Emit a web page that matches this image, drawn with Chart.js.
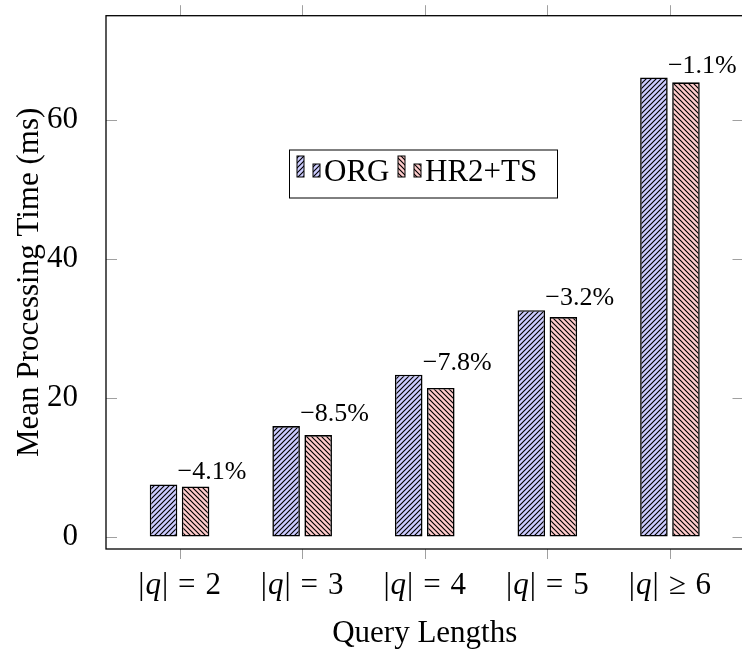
<!DOCTYPE html>
<html>
<head>
<meta charset="utf-8">
<script src="https://cdn.jsdelivr.net/npm/chart.js@4.4.1/dist/chart.umd.min.js"></script>
<style>
  html, body { margin: 0; padding: 0; overflow: hidden; background: #fff; }
  canvas { display: block; }
</style>
</head>
<body>
<canvas id="chart" width="760" height="659"></canvas>
<script>
const categories = ['|q| = 2', '|q| = 3', '|q| = 4', '|q| = 5', '|q| ≥ 6'];
const orgTimes = [7.5, 15.9, 23.3, 32.6, 66.1];
const hr2tsTimes = [7.2, 14.6, 21.4, 31.6, 65.4];
const changeLabels = ['−4.1%', '−8.5%', '−7.8%', '−3.2%', '−1.1%'];
const yTicks = [0, 20, 40, 60];

const FONT = "'Liberation Serif', 'Times New Roman', serif";
Chart.defaults.color = '#000';

const canvas = document.getElementById('chart');
const ctx = canvas.getContext('2d');

// diagonal hatch on a light fill, dir 1 = north east, -1 = north west
function hatch(bg, dir) {
    const s = 5;
    const c = document.createElement('canvas');
    c.width = c.height = s;
    const g = c.getContext('2d');
    g.fillStyle = bg;
    g.fillRect(0, 0, s, s);
    g.strokeStyle = '#000';
    g.lineWidth = 1.15;
    g.beginPath();
    if (dir > 0) {
        g.moveTo(0, s); g.lineTo(s, 0);
        g.moveTo(-1, 1); g.lineTo(1, -1);
        g.moveTo(s - 1, s + 1); g.lineTo(s + 1, s - 1);
    } else {
        g.moveTo(0, 0); g.lineTo(s, s);
        g.moveTo(s - 1, -1); g.lineTo(s + 1, 1);
        g.moveTo(-1, s - 1); g.lineTo(1, s + 1);
    }
    g.stroke();
    return ctx.createPattern(c, 'repeat');
}

const orgFill = hatch('#ccccff', 1);
const hrFill = hatch('#ffcccc', -1);

// tick marks, frame, math-style x labels, change labels and legend
const decorPlugin = {
    id: 'decor',
    afterDraw: (chart) => {
        const { ctx, chartArea: { left, top, right, bottom }, scales: { x, y } } = chart;
        ctx.save();

        ctx.strokeStyle = '#a0a0a0';
        ctx.lineWidth = 1;
        ctx.beginPath();
        yTicks.forEach(v => {
            const py = Math.round(y.getPixelForValue(v)) + 0.5;
            ctx.moveTo(left, py); ctx.lineTo(left + 11, py);
            ctx.moveTo(right - 11, py); ctx.lineTo(right, py);
        });
        categories.forEach((c, i) => {
            const px = Math.round(x.getPixelForValue(i)) + 0.5;
            ctx.moveTo(px, top - 10.5); ctx.lineTo(px, top);
            ctx.moveTo(px, bottom); ctx.lineTo(px, bottom + 10);
        });
        ctx.stroke();

        ctx.strokeStyle = '#000';
        ctx.lineWidth = 1.3;
        ctx.strokeRect(left, top, right - left, bottom - top);

        // x tick labels with italic q
        const size = 31;
        const upright = size + 'px ' + FONT;
        const italic = 'italic ' + size + 'px ' + FONT;
        ctx.fillStyle = '#000';
        ctx.textBaseline = 'alphabetic';
        ctx.textAlign = 'left';
        categories.forEach((label, i) => {
            const parts = [];
            for (const ch of label) {
                if (ch === ' ') { parts.push({ gap: size * 0.32 }); continue; }
                ctx.font = ch === 'q' ? italic : upright;
                parts.push({ ch, font: ctx.font, w: ctx.measureText(ch).width + (ch === 'q' ? 2 : 0) });
            }
            const total = parts.reduce((s, p) => s + (p.gap || p.w), 0);
            let cx = x.getPixelForValue(i) - total / 2;
            parts.forEach(p => {
                if (p.gap) { cx += p.gap; return; }
                ctx.font = p.font;
                ctx.fillText(p.ch, cx + (p.ch === 'q' ? 1 : 0), 594);
                cx += p.w;
            });
        });

        // relative change above each group
        ctx.font = '26px ' + FONT;
        changeLabels.forEach((t, i) => {
            ctx.fillText(t, x.getPixelForValue(i) - 2, y.getPixelForValue(orgTimes[i]) - 5);
        });

        // legend
        ctx.fillStyle = '#fff';
        ctx.fillRect(289.5, 150, 268, 48);
        ctx.strokeStyle = '#000';
        ctx.lineWidth = 1;
        ctx.strokeRect(289.5, 150, 268, 48);
        const items = [
            { fill: orgFill, text: chart.data.datasets[0].label, x0: 297 },
            { fill: hrFill, text: chart.data.datasets[1].label, x0: 398 }
        ];
        items.forEach(it => {
            [[it.x0, 156, 21], [it.x0 + 16, 164, 13]].forEach(([bx, by, bh]) => {
                ctx.fillStyle = it.fill;
                ctx.fillRect(bx, by, 7, bh);
                ctx.lineWidth = 1;
                ctx.strokeRect(bx, by, 7, bh);
            });
            ctx.fillStyle = '#000';
            ctx.font = upright;
            ctx.fillText(it.text, it.x0 + 27, 181);
        });

        ctx.restore();
    }
};

new Chart(ctx, {
    type: 'bar',
    data: {
        datasets: [{
            label: 'ORG',
            data: categories.map((c, i) => ({ x: i, y: orgTimes[i] })),
            backgroundColor: orgFill,
            borderColor: '#000',
            borderWidth: 1.6,
            borderSkipped: false,
            categoryPercentage: 0.523,
            barPercentage: 0.86
        }, {
            label: 'HR2+TS',
            data: categories.map((c, i) => ({ x: i, y: hr2tsTimes[i] })),
            backgroundColor: hrFill,
            borderColor: '#000',
            borderWidth: 1.6,
            borderSkipped: false,
            categoryPercentage: 0.523,
            barPercentage: 0.86
        }]
    },
    options: {
        responsive: false,
        animation: false,
        layout: { padding: { top: 15.7, right: 16.5, left: 0, bottom: 0 } },
        plugins: {
            legend: { display: false },
            tooltip: { enabled: false }
        },
        scales: {
            x: {
                type: 'linear',
                offset: false,
                min: -0.6,
                max: 4.6,
                afterBuildTicks: (s) => { s.ticks = categories.map((c, i) => ({ value: i })); },
                afterFit: (s) => { s.height = 659 - 549; s.paddingLeft = 0; s.paddingRight = 0; },
                grid: { display: false },
                border: { display: false },
                ticks: { display: false },
                title: {
                    display: true,
                    text: 'Query Lengths',
                    font: { family: FONT, size: 31 },
                    padding: { top: 0, bottom: 7 }
                }
            },
            y: {
                min: -1.8,
                max: 75,
                afterBuildTicks: (s) => { s.ticks = yTicks.map(v => ({ value: v })); },
                afterFit: (s) => { s.width = 106; s.paddingTop = 0; s.paddingBottom = 0; },
                grid: { display: false },
                border: { display: false },
                ticks: { padding: 20, font: { family: FONT, size: 31 } },
                title: {
                    display: true,
                    text: 'Mean Processing Time (ms)',
                    font: { family: FONT, size: 31 },
                    padding: { top: 11, bottom: 0 }
                }
            }
        }
    },
    plugins: [decorPlugin]
});
</script>
</body>
</html>
